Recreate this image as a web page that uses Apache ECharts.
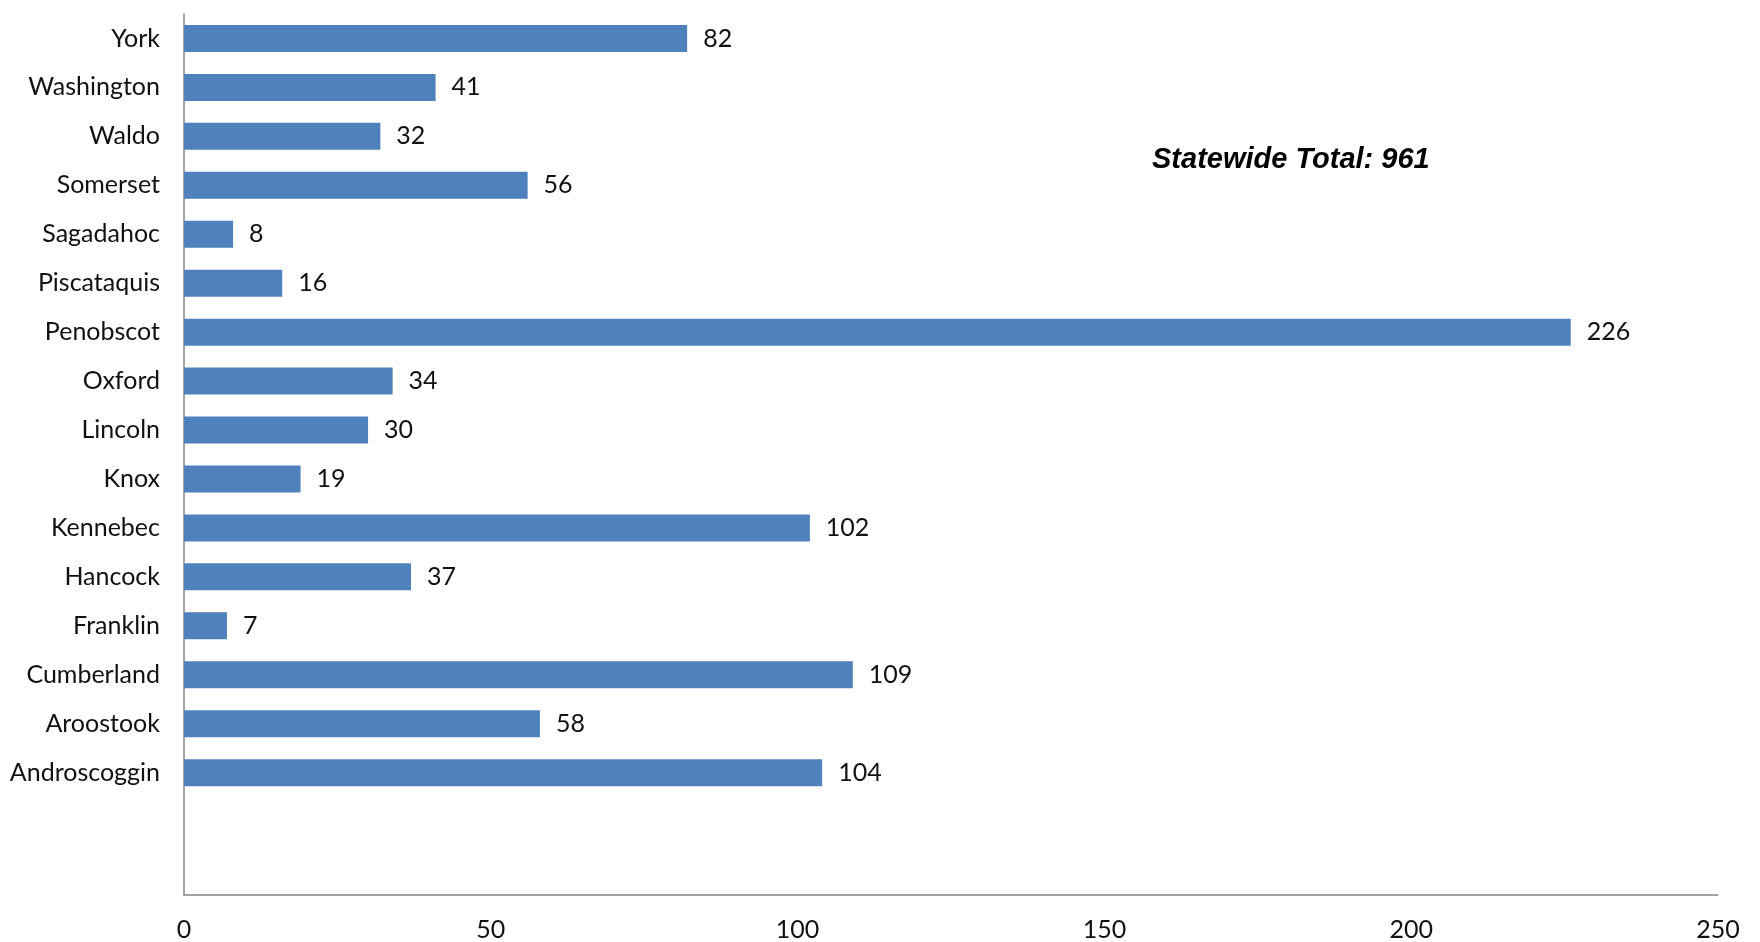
<!DOCTYPE html>
<html>
<head>
<meta charset="utf-8">
<script src="https://cdn.jsdelivr.net/npm/echarts@6/dist/echarts.min.js"></script>
<style>
  html, body { margin: 0; padding: 0; background: #fff; }
  #chart { width: 1760px; height: 942px; }
</style>
</head>
<body>
<div id="chart"></div>
<script>
// counties listed top to bottom, two empty slots at the bottom like the original
const counties = ['York', 'Washington', 'Waldo', 'Somerset', 'Sagadahoc', 'Piscataquis', 'Penobscot',
  'Oxford', 'Lincoln', 'Knox', 'Kennebec', 'Hancock', 'Franklin', 'Cumberland', 'Aroostook',
  'Androscoggin', '', ''];
const counts = [82, 41, 32, 56, 8, 16, 226, 34, 30, 19, 102, 37, 7, 109, 58, 104, null, null];
const xTicks = [0, 50, 100, 150, 200, 250];
const totalText = 'Statewide Total: 961';

const labelFont = 'Lato, "Open Sans", sans-serif';

const chart = echarts.init(document.getElementById('chart'));

chart.setOption({
  animation: false,
  backgroundColor: '#ffffff',
  title: {
    text: totalText,
    left: 1147,
    top: 140,
    textStyle: {
      fontFamily: '"Liberation Sans", Arial, sans-serif',
      fontStyle: 'italic',
      fontWeight: 'bold',
      fontSize: 29,
      color: '#000'
    }
  },
  grid: {
    left: 184,
    right: 42,
    top: 14,
    bottom: 46,
    containLabel: false
  },
  xAxis: {
    type: 'value',
    min: xTicks[0],
    max: xTicks[xTicks.length - 1],
    interval: xTicks[1] - xTicks[0],
    axisLine: { show: true, lineStyle: { color: '#868686', width: 1.5 } },
    axisTick: { show: false },
    splitLine: { show: false },
    axisLabel: {
      margin: 22,
      fontFamily: labelFont,
      fontSize: 25,
      color: '#111'
    }
  },
  yAxis: {
    type: 'category',
    inverse: true,
    data: counties,
    axisLine: { show: true, lineStyle: { color: '#868686', width: 1.5 } },
    axisTick: { show: false },
    axisLabel: {
      margin: 24,
      fontFamily: labelFont,
      fontSize: 25,
      color: '#111'
    }
  },
  series: [{
    type: 'bar',
    data: counts,
    barWidth: 27,
    itemStyle: { color: '#4F81BD' },
    label: {
      show: true,
      position: 'right',
      distance: 16,
      fontFamily: labelFont,
      fontSize: 25,
      color: '#111'
    }
  }]
});
</script>
</body>
</html>
